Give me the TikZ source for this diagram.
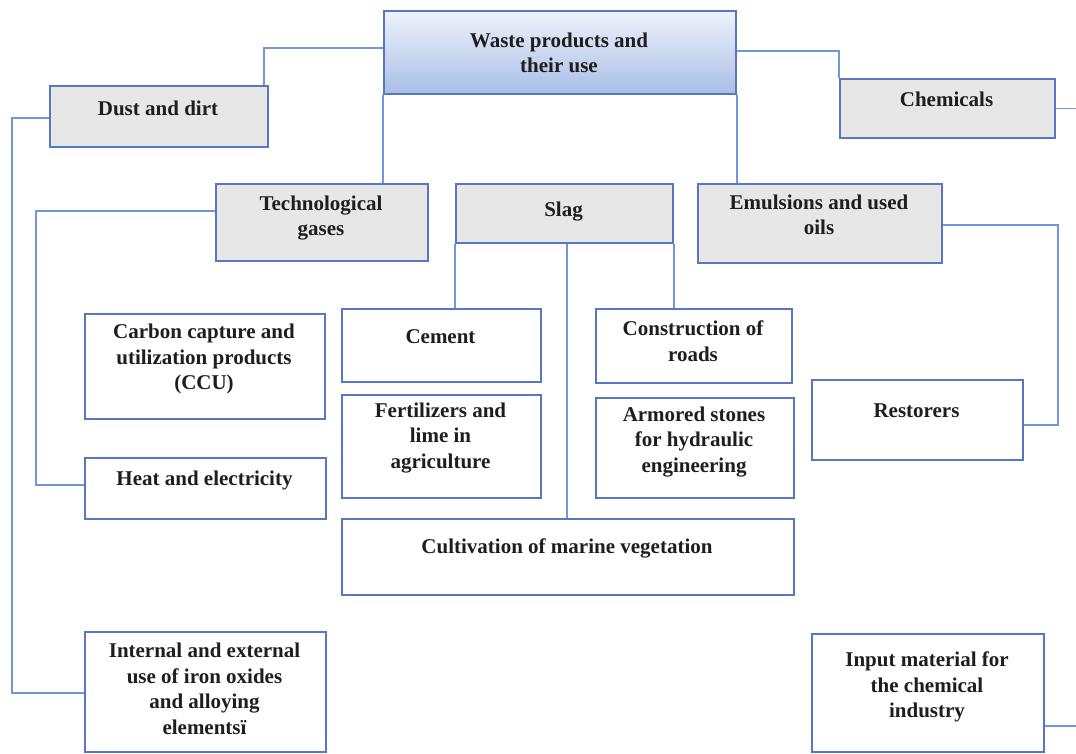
\documentclass[tikz,border=0pt]{standalone}
\usepackage{fontspec}
\setmainfont{Liberation Serif}
\definecolor{edgeblue}{HTML}{5877C2}
\definecolor{linkblue}{HTML}{7396D9}
\definecolor{boxgray}{HTML}{E7E7E7}
\definecolor{inktext}{HTML}{1E1E1E}
\definecolor{headtop}{HTML}{EEF2FA}
\definecolor{headbot}{HTML}{A9BEE6}

% \boxat{style}{name}{x1}{y1}{x2}{y2}{text}{text centre y}
\newcommand\boxat[8]{%
  \node[#1, minimum width={#5-#3}, minimum height={#6-#4}] (#2) at (#3,#4) {};
  \node[lbl] (#2-t) at ({(#3+#5)/2},#8) {#7};}

\begin{document}
\begin{tikzpicture}[x=1pt,y=-1pt,
  base/.style={draw=edgeblue, line width=2pt, rectangle, inner sep=0pt, anchor=north west},
  graybox/.style={base, fill=boxgray},
  whitebox/.style={base, fill=white},
  headbox/.style={base, top color=headtop, bottom color=headbot},
  lbl/.style={font=\bfseries\fontsize{21}{25.5}\selectfont, text=inktext, align=center, inner sep=0pt},
  link/.style={draw=linkblue, line width=1.7pt}
]
\fill[white] (0,0) rectangle (1076,753);
\useasboundingbox (0,0) rectangle (1076,753);

% top level
\boxat{headbox}{main}{383}{10}{735}{93}{Waste products and\\their use}{53}

% second level
\boxat{graybox}{dust}{49}{85}{267}{146}{Dust and dirt}{108}
\boxat{graybox}{chem}{839}{78}{1054}{137}{Chemicals}{99}
\boxat{graybox}{tech}{215}{183}{427}{260}{Technological\\gases}{218}
\boxat{graybox}{slag}{455}{183}{672}{242}{Slag}{212}
\boxat{graybox}{emul}{697}{183}{941}{262}{Emulsions and used\\oils}{215}

% uses
\boxat{whitebox}{ccu}{84}{313}{324}{418}{Carbon capture and\\utilization products\\(CCU)}{359}
\boxat{whitebox}{heat}{84}{457}{325}{518}{Heat and electricity}{480}
\boxat{whitebox}{iron}{84}{631}{325}{751}{Internal and external\\use of iron oxides\\and alloying\\elementsï}{689}
\boxat{whitebox}{cement}{341}{308}{540}{381}{Cement}{337}
\boxat{whitebox}{fert}{341}{394}{540}{497}{Fertilizers and\\lime in\\agriculture}{438}
\boxat{whitebox}{roads}{595}{308}{791}{382}{Construction of\\roads}{341}
\boxat{whitebox}{stones}{595}{397}{793}{497}{Armored stones\\for hydraulic\\engineering}{442}
\boxat{whitebox}{marine}{341}{518}{793}{594}{Cultivation of marine vegetation}{548}
\boxat{whitebox}{rest}{811}{379}{1022}{459}{Restorers}{411}
\boxat{whitebox}{input}{811}{633}{1043}{751}{Input material for\\the chemical\\industry}{687}

% connectors from the head box
\draw[link] ([yshift=4.5pt]main.west) -| ([xshift=-5pt]dust.north east);
\draw[link] (main.south west) -- (main.south west |- tech.north);
\draw[link] (main.south east) -- (main.south east |- emul.north);
\draw[link] ([yshift=1.5pt]main.east) -| (chem.north west);

% dust and dirt rail
\draw[link] ([yshift=-1.5pt]dust.west) -- ++(-37,0) |- ([yshift=-1pt]iron.west);

% technological gases rail
\draw[link] ([yshift=11.5pt]tech.west) -- ++(-179,0) |- ([yshift=3.5pt]heat.west);

% slag branches
\draw[link] (slag.south west) -- (slag.south west |- cement.north);
\draw[link] (slag.south east) -- (slag.south east |- roads.north);
\draw[link] ([xshift=2.5pt]slag.south) -- ([xshift=2.5pt]slag.south |- marine.north);

% emulsions and used oils
\draw[link] ([yshift=-1.5pt]emul.east) -- ++(115,0) |- ([yshift=-5pt]rest.east);

% chemicals, continuing past the right edge
\draw[link] (chem.east) -- ++(40,0);
\draw[link] ([yshift=27pt]input.south east) -- ++(40,0);
\end{tikzpicture}
\end{document}
